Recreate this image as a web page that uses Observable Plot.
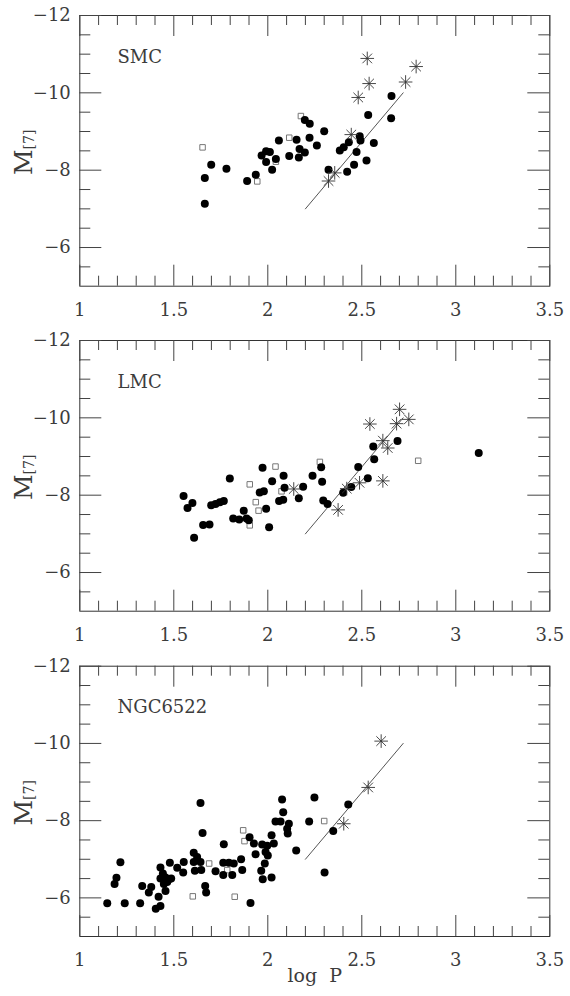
<!DOCTYPE html>
<html><head><meta charset="utf-8">
<script src="https://cdn.jsdelivr.net/npm/d3@7"></script>
<script src="https://cdn.jsdelivr.net/npm/@observablehq/plot@0.6"></script>
<style>
html,body{margin:0;padding:0;background:#fff;}
#chart{width:570px;height:996px;position:relative;}
#chart svg{display:block;}
</style></head><body><div id="chart"></div>
<script>
// ---- axis ticks ----
const xTickValues = [1, 1.5, 2, 2.5, 3, 3.5];
const xMinorTicks = [1.1,1.2,1.3,1.4,1.6,1.7,1.8,1.9,2.1,2.2,2.3,2.4,2.6,2.7,2.8,2.9,3.1,3.2,3.3,3.4];
const yTickValues = [-12, -10, -8, -6];
const yMinorTicks = [-11.5,-11,-10.5,-9.5,-9,-8.5,-7.5,-7,-6.5,-5.5];

// ---- reference relation (solid line) ----
const fitLogP = [2.2, 2.72];
const fitM = [-7, -10];

// ---- SMC ----
const smcCircles = [[1.665,-7.80],[1.665,-7.13],[1.699,-8.14],[1.780,-8.04],[1.890,-7.72],[1.936,-7.88],[1.967,-8.38],[1.991,-8.49],[2.011,-8.47],[1.991,-8.21],[2.023,-8.01],[2.043,-8.29],[2.059,-8.77],[2.114,-8.37],[2.153,-8.79],[2.169,-8.55],[2.165,-8.33],[2.197,-8.46],[2.197,-9.30],[2.223,-9.20],[2.222,-8.84],[2.261,-8.64],[2.300,-9.01],[2.323,-8.01],[2.383,-8.51],[2.404,-8.59],[2.431,-8.72],[2.489,-8.88],[2.493,-8.77],[2.472,-8.47],[2.459,-8.14],[2.422,-7.96],[2.525,-8.25],[2.564,-8.70],[2.534,-9.43],[2.658,-9.92],[2.656,-9.34]];
const smcSquares = [[1.653,-8.59],[1.944,-7.71],[2.043,-8.22],[2.114,-8.84],[2.176,-9.40]];
const smcStars = [[2.323,-7.72],[2.356,-7.93],[2.444,-8.92],[2.481,-9.88],[2.529,-10.89],[2.539,-10.24],[2.733,-10.28],[2.789,-10.68]];

// ---- LMC ----
const lmcCircles = [[1.552,-7.98],[1.573,-7.67],[1.599,-7.80],[1.608,-6.90],[1.656,-7.23],[1.690,-7.24],[1.699,-7.74],[1.722,-7.77],[1.745,-7.82],[1.766,-7.85],[1.798,-8.43],[1.816,-7.40],[1.848,-7.37],[1.872,-7.60],[1.887,-7.40],[1.899,-7.35],[1.972,-8.71],[1.957,-8.07],[1.979,-8.10],[1.991,-7.65],[2.007,-7.17],[2.023,-8.36],[2.084,-8.50],[2.089,-8.19],[2.060,-7.85],[2.082,-7.88],[2.165,-7.92],[2.188,-8.22],[2.238,-8.50],[2.284,-8.72],[2.289,-8.35],[2.295,-7.86],[2.318,-7.77],[2.401,-8.06],[2.444,-8.21],[2.481,-8.73],[2.532,-8.44],[2.561,-9.26],[2.566,-8.93],[2.690,-9.40],[3.122,-9.09]];
const lmcSquares = [[1.904,-8.28],[1.904,-7.22],[1.936,-7.82],[1.951,-7.60],[2.041,-8.74],[2.073,-8.10],[2.277,-8.86],[2.800,-8.89]];
const lmcStars = [[2.138,-8.16],[2.374,-7.62],[2.420,-8.17],[2.488,-8.32],[2.612,-8.37],[2.543,-9.84],[2.612,-9.41],[2.638,-9.22],[2.685,-9.85],[2.701,-10.22],[2.750,-9.96]];

// ---- NGC6522 ----
const ngcCircles = [[1.146,-5.86],[1.185,-6.36],[1.195,-6.52],[1.216,-6.92],[1.239,-5.86],[1.321,-5.86],[1.332,-6.31],[1.367,-6.14],[1.380,-6.28],[1.419,-6.03],[1.404,-5.72],[1.429,-5.79],[1.429,-6.79],[1.442,-6.63],[1.429,-6.50],[1.456,-6.53],[1.474,-6.48],[1.447,-6.36],[1.465,-6.41],[1.456,-6.18],[1.479,-6.91],[1.486,-6.50],[1.518,-6.78],[1.553,-6.93],[1.550,-6.66],[1.606,-7.17],[1.624,-7.06],[1.606,-6.93],[1.642,-6.93],[1.612,-6.70],[1.646,-6.72],[1.642,-8.46],[1.653,-7.68],[1.667,-6.31],[1.672,-6.14],[1.722,-6.69],[1.763,-6.91],[1.766,-7.39],[1.763,-6.59],[1.793,-6.91],[1.811,-6.59],[1.819,-6.89],[1.858,-7.00],[1.864,-6.72],[1.903,-7.57],[1.908,-5.87],[1.926,-7.41],[1.935,-7.13],[1.965,-6.70],[1.970,-7.38],[1.973,-6.48],[1.984,-6.89],[1.988,-7.19],[1.997,-7.35],[2.000,-7.10],[2.020,-7.62],[2.020,-6.53],[2.032,-7.41],[2.041,-7.98],[2.068,-7.98],[2.076,-8.55],[2.082,-8.22],[2.103,-7.79],[2.106,-7.67],[2.112,-7.92],[2.151,-7.23],[2.220,-7.98],[2.248,-8.60],[2.302,-6.66],[2.348,-7.73],[2.428,-8.42]];
const ngcSquares = [[1.601,-6.04],[1.688,-6.89],[1.784,-6.72],[1.824,-6.03],[1.869,-7.75],[1.876,-7.47],[2.300,-7.99]];
const ngcStars = [[2.404,-7.92],[2.534,-8.86],[2.603,-10.06]];

const panelNames = ["SMC", "LMC", "NGC6522"];

// 8-armed asterisk symbol
const asterisk8 = {
  draw(context, size) {
    const r = Math.sqrt(size / Math.PI);
    for (let k = 0; k < 4; k++) {
      const a = k * Math.PI / 4;
      const dx = r * Math.cos(a), dy = r * Math.sin(a);
      context.moveTo(-dx, -dy);
      context.lineTo(dx, dy);
    }
  }
};

const FONT = "'DejaVu Serif', 'Liberation Serif', serif";
const TEXT = "#3c3c3c";
const fitData = fitLogP.map((x, i) => ({x, y: fitM[i]}));

function panel(name, circles, squares, stars, o) {
  const innerH = o.height - o.mt - o.mb;
  const innerW = 570 - 79.3 - 20.7;
  const ticks = "#444";
  const marks = [
    Plot.frame({stroke: "#333", strokeWidth: 1}),
    Plot.ruleX(xMinorTicks, {x: d => d, insetTop: innerH - 10, stroke: ticks}),
    Plot.ruleX(xMinorTicks, {x: d => d, insetBottom: innerH - 10, stroke: ticks}),
    Plot.ruleX(xTickValues, {x: d => d, insetTop: innerH - 21, stroke: ticks}),
    Plot.ruleX(xTickValues, {x: d => d, insetBottom: innerH - 21, stroke: ticks}),
    Plot.ruleY(yMinorTicks, {y: d => d, insetRight: innerW - 11, stroke: ticks}),
    Plot.ruleY(yMinorTicks, {y: d => d, insetLeft: innerW - 11, stroke: ticks}),
    Plot.ruleY(yTickValues, {y: d => d, insetRight: innerW - 22, stroke: ticks}),
    Plot.ruleY(yTickValues, {y: d => d, insetLeft: innerW - 22, stroke: ticks}),
    Plot.axisX(xTickValues, {tickSize: 0, tickPadding: 17, tickFormat: d => String(d), label: null, fontSize: 18, fill: TEXT}),
    Plot.axisY(yTickValues, {tickSize: 0, tickPadding: 9, tickFormat: d => "\u2212" + Math.abs(d), label: null, fontSize: 18, fill: TEXT}),
    Plot.line(fitData, {x: "x", y: "y", stroke: "#555", strokeWidth: 1}),
    Plot.dot(squares, {x: d => d[0], y: d => d[1], symbol: "square", r: 3.1, stroke: "#777", strokeWidth: 1, fill: "none"}),
    Plot.dot(circles, {x: d => d[0], y: d => d[1], r: 4, fill: "#000", stroke: "none"}),
    Plot.dot(stars, {x: d => d[0], y: d => d[1], symbol: asterisk8, r: 6.8, stroke: "#333", strokeWidth: 0.9, fill: "none"}),
    Plot.text([name], {text: d => d, frameAnchor: "top-left", dx: 37.7, dy: 47, lineAnchor: "bottom", textAnchor: "start", fontSize: 18, fill: TEXT, letterSpacing: 1})
  ];
  if (o.xlabel) {
    marks.push(Plot.text([o.xlabel], {text: d => d, frameAnchor: "bottom", dy: 45, lineAnchor: "bottom", fontSize: 19, fill: TEXT, letterSpacing: 1.5}));
  }
  const svg = Plot.plot({
    width: 570, height: o.height,
    marginLeft: 79.3, marginRight: 20.7, marginTop: o.mt, marginBottom: o.mb,
    style: {fontFamily: FONT, fontSize: "18px", color: TEXT, background: "#fff"},
    x: {domain: [1, 3.5]},
    y: {domain: [-5, -12]},
    marks
  });
  // y-axis title M_[7]
  const t = d3.select(svg).append("text")
    .attr("transform", `translate(32, ${o.mt + innerH / 2 + 2}) rotate(-90)`)
    .attr("text-anchor", "middle")
    .attr("font-family", FONT)
    .attr("fill", TEXT);
  t.append("tspan").attr("font-size", 25).text("M");
  t.append("tspan").attr("font-size", 14).attr("dy", 2).text("[7]");
  return svg;
}

const chart = document.getElementById("chart");
chart.append(panel(panelNames[0], smcCircles, smcSquares, smcStars, {height: 325, mt: 15, mb: 39.3}));
chart.append(panel(panelNames[1], lmcCircles, lmcSquares, lmcStars, {height: 325, mt: 15, mb: 39.3}));
chart.append(panel(panelNames[2], ngcCircles, ngcSquares, ngcStars, {height: 346, mt: 15.7, mb: 60, xlabel: "log  P"}));
</script>
</body></html>
